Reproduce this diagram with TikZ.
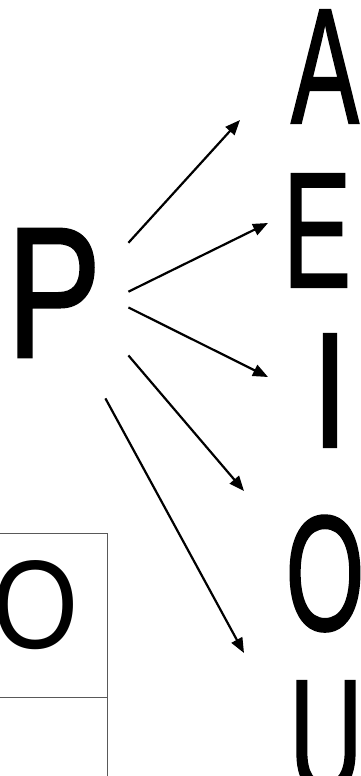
\documentclass[tikz,border=0pt]{standalone}
\usepackage{fontspec,graphicx}
\setmainfont{Liberation Sans}
\newfontfamily\heavysans[FakeBold=1.5]{Liberation Sans}
\usetikzlibrary{arrows.meta}
\newcommand{\vowelfont}{\heavysans\fontsize{82}{82}\selectfont}
\newcommand{\consfont}{\heavysans\fontsize{93}{93}\selectfont}
\newcommand{\cellfont}{\fontsize{63}{63}\selectfont}
\tikzset{vowel/.style={inner sep=0,anchor=base,font=\vowelfont},arr/.style={-{Triangle[length=7.5pt,width=6pt]},line width=1.1pt},grid/.style={draw=black!65,line width=0.5pt}}

\begin{document}
\begin{tikzpicture}[x=0.5pt,y=-0.5pt]
\useasboundingbox (0,0) rectangle (360,776);
\node[inner sep=0,minimum width=74pt,minimum height=105pt,font=\consfont] (P) at (54,293) {\scalebox{0.76}[1]{P}};
\node[vowel] (A) at (325,123) {\scalebox{0.62}[1]{A}};
\node[vowel] (E) at (317,287) {\scalebox{0.62}[1]{E}};
\node[vowel] (I) at (330,447) {\scalebox{0.8}[1]{I}};
\node[vowel] (O) at (325,630) {\scalebox{0.62}[1]{O}};
\node[vowel] (U) at (326,794) {\scalebox{0.62}[1]{U}};
\coordinate (toA) at (240,120); \coordinate (toE) at (268,223); \coordinate (toI) at (268,377);
\coordinate (toO) at (244,491); \coordinate (toU) at (244,653);
\draw[arr] (P.34)--(toA); \draw[arr] (P.1)--(toE); \draw[arr] (P.-11)--(toI);
\draw[arr] (P.-40)--(toO); \draw[arr] (P.-64)--(toU);
% table cells, bottom left
\draw[grid] (-10,533) -| (107,697) -- (-10,697); \draw[grid] (107,697) -- (107,790);
\node[inner sep=0,anchor=base,font=\cellfont] (cellO) at (36,648) {\scalebox{0.88}[1]{O}};
\end{tikzpicture}
\end{document}
